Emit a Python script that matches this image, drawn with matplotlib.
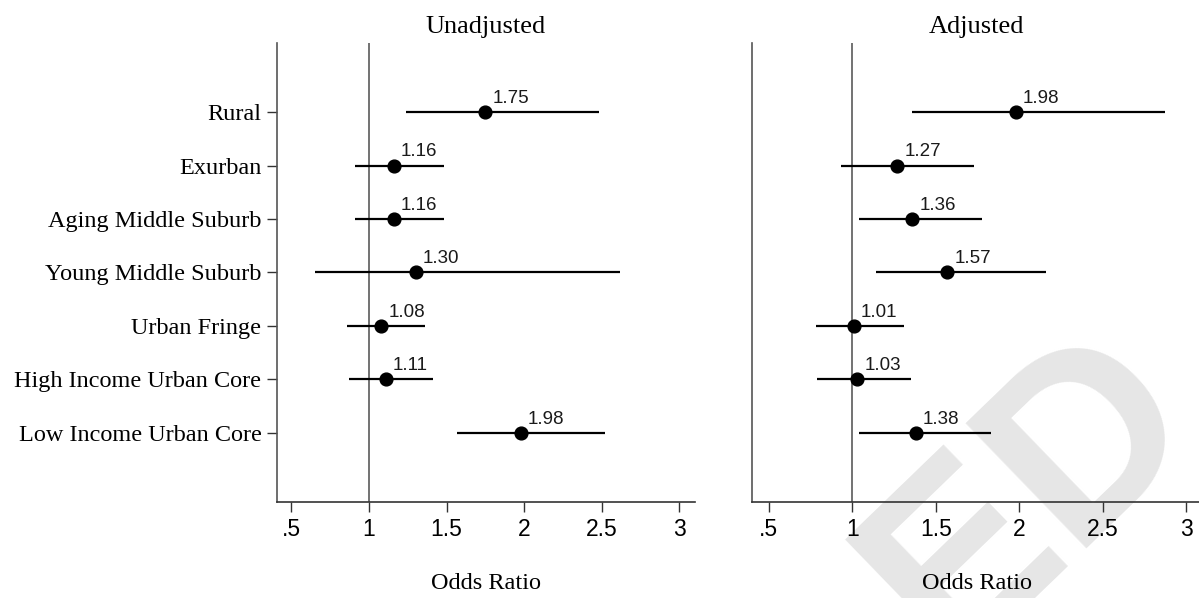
import matplotlib
matplotlib.use("Agg")
import matplotlib.pyplot as plt

categories = ["Rural", "Exurban", "Aging Middle Suburb", "Young Middle Suburb",
              "Urban Fringe", "High Income Urban Core", "Low Income Urban Core"]

unadj_or = [1.75, 1.16, 1.16, 1.30, 1.08, 1.11, 1.98]
unadj_lo = [1.24, 0.91, 0.91, 0.65, 0.86, 0.87, 1.565]
unadj_hi = [2.48, 1.48, 1.48, 2.62, 1.36, 1.41, 2.52]

adj_or = [1.98, 1.27, 1.36, 1.57, 1.01, 1.03, 1.38]
adj_lo = [1.36, 0.93, 1.04, 1.14, 0.78, 0.79, 1.04]
adj_hi = [2.875, 1.73, 1.775, 2.16, 1.31, 1.35, 1.83]

or_labels_unadj = ["1.75", "1.16", "1.16", "1.30", "1.08", "1.11", "1.98"]
or_labels_adj = ["1.98", "1.27", "1.36", "1.57", "1.01", "1.03", "1.38"]

xticks = [0.5, 1, 1.5, 2, 2.5, 3]
xticklabels = [".5", "1", "1.5", "2", "2.5", "3"]
titles = ["Unadjusted", "Adjusted"]

SERIF = "Liberation Serif"
SANS = "Liberation Sans"

W, H = 1199, 598
fig = plt.figure(figsize=(W / 100, H / 100), dpi=100)

# watermark (behind)
fig.text(1030 / W, 1 - 496 / H, "ED", fontsize=182, fontweight="bold",
         family=SANS, color="#e6e6e6", rotation=44, rotation_mode="anchor",
         ha="center", va="center", zorder=-5)

axL = fig.add_axes([277 / W, 1 - 502 / H, 418 / W, 459 / H])
axR = fig.add_axes([752 / W, 1 - 502 / H, 449 / W, 459 / H])

ypos = list(range(1, len(categories) + 1))

panels = [(axL, unadj_or, unadj_lo, unadj_hi, or_labels_unadj, (0.407, 3.10)),
          (axR, adj_or, adj_lo, adj_hi, or_labels_adj, (0.399, 3.09))]

for i, (ax, est, lo, hi, labs, xl) in enumerate(panels):
    ax.patch.set_facecolor("none")
    ax.axvline(1, color="#5a5a5a", lw=1.2, zorder=1)
    ax.hlines(ypos, lo, hi, color="black", lw=1.6, zorder=2)
    ax.plot(est, ypos, "o", color="black", markersize=9.2, zorder=3)
    for x, y, t in zip(est, ypos, labs):
        ax.annotate(t, (x, y), xytext=(5, 6.5), textcoords="offset points",
                    ha="left", va="baseline", fontsize=13.5, family=SANS,
                    color="#1a1a1a")
    ax.set_xlim(*xl)
    ax.set_ylim(8.29, -0.29)
    ax.set_xticks(xticks)
    ax.set_xticklabels(xticklabels, family=SANS, fontsize=16.5)
    ax.tick_params(axis="x", length=7.2, width=1.0, pad=4.3, color="#333333")
    ax.spines["top"].set_visible(False)
    ax.spines["right"].set_visible(False)
    ax.spines["left"].set_color("#555555")
    ax.spines["bottom"].set_color("#333333")
    ax.spines["left"].set_linewidth(1.2)
    ax.spines["bottom"].set_linewidth(1.2)
    ax.set_title(titles[i], family=SERIF, fontsize=19, pad=7.5)
    ax.set_xlabel("Odds Ratio", family=SERIF, fontsize=17.5, labelpad=23)
    if i == 0:
        ax.set_yticks(ypos)
        ax.set_yticklabels(categories, family=SERIF, fontsize=17.5)
        ax.tick_params(axis="y", length=7.2, width=1.0, pad=4, color="#333333")
    else:
        ax.set_yticks([])

fig.savefig("out.png", dpi=100)
